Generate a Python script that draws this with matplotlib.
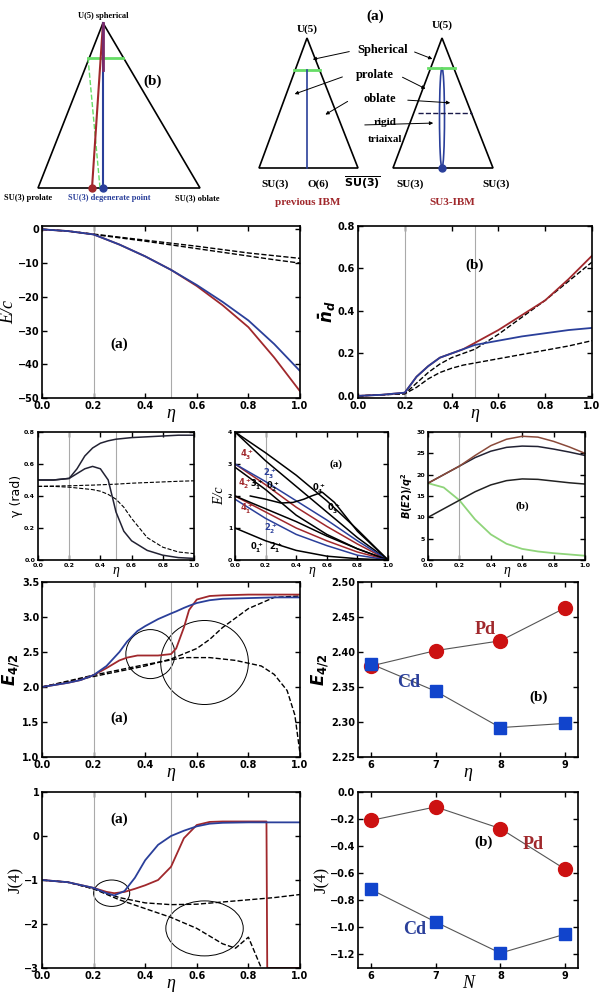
import matplotlib
matplotlib.use('Agg')
import matplotlib.pyplot as plt
from matplotlib.patches import Ellipse, Polygon

plt.rcParams['font.family'] = 'Liberation Serif'
plt.rcParams['font.weight'] = 'bold'

W, H = 600, 998
fig = plt.figure(figsize=(W / 100, H / 100), dpi=100)

def box(x0, y0, x1, y1):
    return fig.add_axes([x0 / W, 1 - y1 / H, (x1 - x0) / W, (y1 - y0) / H])

RED = '#a0282c'
BLUE = '#2a3f9a'

# ---------------- data ----------------
# row 2 left: E/c
ec_x = [0, 0.1, 0.2, 0.3, 0.4, 0.5, 0.6, 0.7, 0.8, 0.9, 1.0]
ec_blue = [0, -0.5, -1.5, -4.5, -8, -12, -16.5, -21.5, -27, -34, -42]
ec_red = [0, -0.5, -1.5, -4.5, -8, -12, -16.8, -22.5, -29, -38, -48]
ec_dash1 = [0, -0.5, -1.4, -2.3, -3.2, -4.1, -5, -6, -7, -7.8, -8.6]
ec_dash2 = [0, -0.5, -1.5, -2.5, -3.5, -4.6, -5.7, -6.8, -7.9, -9, -10]

# row 2 right: n_d
nd_x = [0, 0.1, 0.2, 0.25, 0.3, 0.35, 0.4, 0.45, 0.5, 0.6, 0.7, 0.8, 0.9, 1.0]
nd_blue = [0, 0.005, 0.015, 0.09, 0.14, 0.18, 0.2, 0.22, 0.24, 0.26, 0.28, 0.295, 0.31, 0.32]
nd_red = [0, 0.005, 0.015, 0.09, 0.14, 0.18, 0.2, 0.22, 0.25, 0.31, 0.38, 0.45, 0.55, 0.66]
nd_dash1 = [0, 0.005, 0.01, 0.06, 0.11, 0.15, 0.18, 0.2, 0.22, 0.29, 0.37, 0.45, 0.54, 0.63]
nd_dash2 = [0, 0.005, 0.01, 0.04, 0.08, 0.11, 0.13, 0.145, 0.155, 0.175, 0.195, 0.215, 0.235, 0.26]

# row 3: gamma
g_x = [0, 0.1, 0.2, 0.25, 0.3, 0.35, 0.4, 0.45, 0.5, 0.55, 0.6, 0.7, 0.8, 0.9, 1.0]
g_up = [0.5, 0.5, 0.51, 0.57, 0.65, 0.7, 0.73, 0.745, 0.755, 0.76, 0.765, 0.77, 0.775, 0.78, 0.78]
g_low = [0.5, 0.5, 0.51, 0.54, 0.57, 0.585, 0.57, 0.5, 0.3, 0.18, 0.12, 0.06, 0.03, 0.015, 0.01]
g_dash1 = [0.46, 0.462, 0.464, 0.465, 0.467, 0.468, 0.47, 0.472, 0.474, 0.477, 0.48, 0.484, 0.488, 0.492, 0.495]
g_dash2 = [0.46, 0.46, 0.455, 0.45, 0.445, 0.44, 0.43, 0.41, 0.38, 0.33, 0.26, 0.14, 0.08, 0.05, 0.04]

# row 3: spectrum E/c
sp_x = [0, 0.2, 0.4, 0.6, 0.8, 1.0]
sp_lines = [
    ([4, 3.35, 2.65, 1.85, 0.95, 0], 'k'),
    ([4, 3.1, 2.3, 1.5, 0.7, 0], 'k'),
    ([3, 2.35, 1.65, 1.05, 0.5, 0], RED),
    ([3, 2.45, 1.85, 1.25, 0.6, 0], BLUE),
    ([2.9, 2.2, 1.4, 0.8, 0.35, 0], 'k'),
    ([2, 1.5, 1.0, 0.6, 0.25, 0], RED),
    ([2, 1.6, 1.2, 0.75, 0.35, 0], 'k'),
    ([1.9, 1.3, 0.8, 0.45, 0.15, 0], BLUE),
    ([1, 0.6, 0.3, 0.12, 0.04, 0], 'k'),
]
sp_bump_x = [0.1, 0.2, 0.3, 0.38, 0.45, 0.5, 0.57, 0.65, 0.8, 1.0]
sp_bump = [2.0, 1.9, 1.78, 1.8, 1.9, 2.0, 2.12, 1.8, 0.9, 0]

# row 3: B(E2)
b_x = [0, 0.1, 0.2, 0.3, 0.4, 0.5, 0.6, 0.7, 0.8, 0.9, 1.0]
b_red = [18, 20, 22, 24.5, 26.8, 28.3, 29, 28.8, 27.8, 26.5, 25]
b_dark = [18, 20, 22, 24, 25.5, 26.4, 26.7, 26.6, 26, 25.3, 24.5]
b_low = [10, 12, 14, 16, 17.6, 18.6, 19, 18.9, 18.5, 18.1, 17.8]
b_green = [18, 17, 14, 9.5, 6, 3.8, 2.6, 2.0, 1.6, 1.3, 1.0]

# row 4 left: E4/2
r_x = [0, 0.1, 0.15, 0.2, 0.25, 0.3, 0.33, 0.37, 0.4, 0.45, 0.5, 0.52, 0.55, 0.57, 0.6, 0.65, 0.7, 0.8, 0.9, 1.0]
r_blue = [2.0, 2.06, 2.1, 2.17, 2.3, 2.5, 2.65, 2.8, 2.87, 2.97, 3.05, 3.08, 3.13, 3.16, 3.2, 3.24, 3.26, 3.27, 3.28, 3.28]
r_red = [2.0, 2.06, 2.1, 2.17, 2.27, 2.38, 2.42, 2.45, 2.45, 2.45, 2.47, 2.55, 2.85, 3.1, 3.25, 3.3, 3.31, 3.32, 3.32, 3.32]
d_x1 = [0, 0.2, 0.4, 0.5, 0.6, 0.65, 0.7, 0.8, 0.9, 1.0]
r_dash1 = [2.0, 2.15, 2.3, 2.4, 2.55, 2.68, 2.85, 3.12, 3.28, 3.3]
d_x2 = [0, 0.2, 0.4, 0.55, 0.65, 0.75, 0.85, 0.9, 0.95, 0.98, 1.0]
r_dash2 = [2.0, 2.17, 2.32, 2.42, 2.42, 2.38, 2.3, 2.18, 1.95, 1.6, 1.05]

# row 4 right
n_vals = [6, 7, 8, 9]
e42_pd = [2.380, 2.402, 2.416, 2.463]
e42_cd = [2.383, 2.344, 2.292, 2.298]

# row 5 left: J(4)
j_x = [0, 0.1, 0.2, 0.25, 0.28, 0.32, 0.36, 0.4, 0.45, 0.5, 0.55, 0.6, 0.65, 0.7, 0.8, 0.87, 0.873, 1.0]
j_blue = [-1, -1.05, -1.18, -1.3, -1.35, -1.25, -0.95, -0.55, -0.2, 0.0, 0.12, 0.22, 0.28, 0.3, 0.31, 0.31, 0.31, 0.31]
j_red = [-1, -1.05, -1.18, -1.27, -1.3, -1.27, -1.2, -1.12, -1.0, -0.7, -0.05, 0.25, 0.32, 0.33, 0.33, 0.33, -3, -3]
jd_x1 = [0, 0.1, 0.2, 0.3, 0.4, 0.5, 0.6, 0.7, 0.8, 0.9, 1.0]
j_dash1 = [-1, -1.05, -1.2, -1.4, -1.52, -1.56, -1.55, -1.5, -1.45, -1.4, -1.33]
jd_x2 = [0, 0.1, 0.2, 0.3, 0.4, 0.5, 0.6, 0.7, 0.75, 0.8, 0.85]
j_dash2 = [-1, -1.05, -1.2, -1.45, -1.65, -1.85, -2.1, -2.45, -2.55, -2.3, -3]

# row 5 right
j4_pd = [-0.21, -0.11, -0.27, -0.57]
j4_cd = [-0.72, -0.96, -1.19, -1.05]


def style(ax, fs=7):
    ax.tick_params(direction='in', top=True, right=True, labelsize=fs, width=1, pad=2)
    for s in ax.spines.values():
        s.set_linewidth(1.2)
    for lab in ax.get_xticklabels() + ax.get_yticklabels():
        lab.set_fontweight('bold')
        lab.set_family('DejaVu Sans')


def vlines(ax, xs=(0.2, 0.5)):
    for v in xs:
        ax.axvline(v, color='#aaaaaa', lw=0.8)


# ---------------- top triangles ----------------
at = fig.add_axes([0, 1 - 215 / H, 1, 215 / H])
at.set_xlim(0, 600)
at.set_ylim(215, 0)
at.axis('off')
at.add_patch(Polygon([[103, 23], [38, 188], [200, 188]], closed=True, fill=False, lw=1.2))
at.plot([88, 123], [58, 58], color='#66dd66', lw=2)
at.plot([88, 100], [58, 188], color='#66dd66', lw=1, ls='--')
at.plot([103, 92], [23, 188], color=RED, lw=1.5)
at.plot([103, 103], [23, 188], color=BLUE, lw=1.5)
at.plot([103, 103], [23, 70], color='#7a2a6a', lw=2)
at.plot([92], [188], 'o', color=RED, ms=5)
at.plot([103], [188], 'o', color=BLUE, ms=5)
at.text(103, 18, 'U(5) spherical', ha='center', fontsize=6)
at.text(153, 85, '(b)', ha='center', fontsize=11)
at.text(4, 200, 'SU(3) prolate', fontsize=6)
at.text(68, 200, 'SU(3) degenerate point', fontsize=6, color=BLUE)
at.text(175, 200, 'SU(3) oblate', fontsize=6)

at.add_patch(Polygon([[307, 38], [259, 168], [358, 168]], closed=True, fill=False, lw=1.2))
at.plot([294, 320], [70, 70], color='#66dd66', lw=2)
at.plot([307, 307], [70, 168], color=BLUE, lw=1.2)
at.add_patch(Polygon([[442, 38], [393, 168], [493, 168]], closed=True, fill=False, lw=1.2))
at.plot([428, 455], [68, 68], color='#66dd66', lw=2)
at.add_patch(Ellipse((442, 118), 5, 100, fill=False, color=BLUE, lw=1.2))
at.plot([418, 472], [113, 113], color='#1a1a4a', lw=1, ls='--')
at.plot([442], [168], 'o', color=BLUE, ms=5)
at.text(375, 20, '(a)', ha='center', fontsize=11)
at.text(307, 32, 'U(5)', ha='center', fontsize=8)
at.text(442, 28, 'U(5)', ha='center', fontsize=8)
at.text(383, 53, 'Spherical', ha='center', fontsize=9)
at.text(375, 78, 'prolate', ha='center', fontsize=9)
at.text(380, 102, 'oblate', ha='center', fontsize=9)
at.text(385, 125, 'rigid', ha='center', fontsize=8)
at.text(385, 142, 'triaixal', ha='center', fontsize=8)
arrows = [((352, 51), (310, 60)), ((412, 51), (435, 60)), ((345, 76), (292, 95)),
          ((400, 76), (428, 90)), ((405, 100), (453, 103)), ((350, 100), (323, 116)),
          ((362, 125), (436, 123))]
for (x0, y0), (x1, y1) in arrows:
    at.annotate('', xy=(x1, y1), xytext=(x0, y0),
                arrowprops=dict(arrowstyle='-|>', lw=0.7, color='k', mutation_scale=5))
at.text(275, 187, 'SU(3)', ha='center', fontsize=8)
at.text(318, 187, 'O(6)', ha='center', fontsize=8)
at.text(362, 187, r'$\overline{\mathrm{SU(3)}}$', ha='center', fontsize=8)
at.text(410, 187, 'SU(3)', ha='center', fontsize=8)
at.text(496, 187, 'SU(3)', ha='center', fontsize=8)
at.text(308, 205, 'previous IBM', ha='center', fontsize=8, color=RED)
at.text(452, 205, 'SU3-IBM', ha='center', fontsize=8, color=RED)

# ---------------- row 2 ----------------
ax = box(42, 226, 300, 398)
vlines(ax)
ax.plot(ec_x, ec_dash1, 'k--', lw=1)
ax.plot(ec_x, ec_dash2, 'k--', lw=1)
ax.plot(ec_x, ec_red, color=RED, lw=1.3)
ax.plot(ec_x, ec_blue, color=BLUE, lw=1.3)
ax.set_xlim(0, 1)
ax.set_ylim(-50, 1)
ax.set_yticks([0, -10, -20, -30, -40, -50])
ax.set_xticks([0, 0.2, 0.4, 0.6, 0.8, 1.0])
ax.set_ylabel('E/c', fontsize=13, style='italic', labelpad=0)
ax.set_xlabel('η', fontsize=13, style='italic', labelpad=-4)
ax.text(0.3, -35, '(a)', fontsize=11, ha='center')
style(ax)

ax = box(358, 226, 592, 398)
vlines(ax)
ax.plot(nd_x, nd_dash1, 'k--', lw=1)
ax.plot(nd_x, nd_dash2, 'k--', lw=1)
ax.plot(nd_x, nd_red, color=RED, lw=1.3)
ax.plot(nd_x, nd_blue, color=BLUE, lw=1.3)
ax.set_xlim(0, 1)
ax.set_ylim(-0.01, 0.8)
ax.set_yticks([0, 0.2, 0.4, 0.6, 0.8])
ax.set_xticks([0, 0.2, 0.4, 0.6, 0.8, 1.0])
ax.set_ylabel(r'$\bar{n}_d$', fontsize=12, labelpad=0)
ax.set_xlabel('η', fontsize=13, style='italic', labelpad=-4)
ax.text(0.5, 0.6, '(b)', fontsize=11, ha='center')
style(ax)

# ---------------- row 3 ----------------
ax = box(38, 432, 194, 560)
vlines(ax)
ax.plot(g_x, g_dash1, 'k--', lw=0.8)
ax.plot(g_x, g_dash2, 'k--', lw=0.8)
ax.plot(g_x, g_up, color='#222233', lw=1.1)
ax.plot(g_x, g_low, color='#222233', lw=1.1)
ax.set_xlim(0, 1)
ax.set_ylim(0, 0.8)
ax.set_yticks([0, 0.2, 0.4, 0.6, 0.8])
ax.set_xticks([0, 0.2, 0.4, 0.6, 0.8, 1.0])
ax.set_ylabel('γ (rad)', fontsize=9, family='DejaVu Sans', fontweight='normal', labelpad=1)
ax.set_xlabel('η', fontsize=10, style='italic', labelpad=-3)
style(ax, 4.5)

ax = box(235, 432, 388, 560)
vlines(ax, (0.2,))
for ys, c in sp_lines:
    ax.plot(sp_x, ys, color=c, lw=1.1)
ax.plot(sp_bump_x, sp_bump, color='k', lw=1.1)
ax.set_xlim(0, 1)
ax.set_ylim(0, 4)
ax.set_yticks([0, 1, 2, 3, 4])
ax.set_xticks([0, 0.2, 0.4, 0.6, 0.8, 1.0])
ax.set_ylabel('E/c', fontsize=10, style='italic', labelpad=1)
ax.set_xlabel('η', fontsize=10, style='italic', labelpad=-3)
ax.text(0.62, 2.9, '(a)', fontsize=8)
for x, y, t, c in [(0.03, 3.2, r'$4^+_3$', RED), (0.02, 2.3, r'$4^+_2$', RED),
                   (0.1, 2.25, r'$3^+_1$', 'k'), (0.2, 2.2, r'$0^+_2$', 'k'),
                   (0.03, 1.5, r'$4^+_1$', RED), (0.18, 2.6, r'$2^+_3$', BLUE),
                   (0.5, 2.15, r'$0^+_4$', 'k'), (0.6, 1.5, r'$0^+_3$', 'k'),
                   (0.19, 0.9, r'$2^+_2$', BLUE), (0.1, 0.3, r'$0^+_1$', 'k'),
                   (0.22, 0.3, r'$2^+_1$', 'k')]:
    ax.text(x, y, t, fontsize=6, color=c)
style(ax, 4.5)

ax = box(428, 432, 585, 560)
vlines(ax, (0.2,))
ax.plot(b_x, b_green, color='#8fd47a', lw=1.3)
ax.plot(b_x, b_low, color='#222222', lw=1.1)
ax.plot(b_x, b_dark, color='#222233', lw=1.1)
ax.plot(b_x, b_red, color='#8a4a3a', lw=1.1)
ax.set_xlim(0, 1)
ax.set_ylim(0, 30)
ax.set_yticks([0, 5, 10, 15, 20, 25, 30])
ax.set_xticks([0, 0.2, 0.4, 0.6, 0.8, 1.0])
ax.set_ylabel(r'$B(E2)/q^2$', fontsize=7, labelpad=1)
ax.set_xlabel('η', fontsize=10, style='italic', labelpad=-3)
ax.text(0.6, 12, '(b)', fontsize=8, ha='center')
style(ax, 4.5)

# ---------------- row 4 ----------------
ax = box(42, 582, 300, 757)
vlines(ax)
ax.plot(d_x1, r_dash1, 'k--', lw=1)
ax.plot(d_x2, r_dash2, 'k--', lw=1)
ax.plot(r_x, r_red, color=RED, lw=1.3)
ax.plot(r_x, r_blue, color=BLUE, lw=1.3)
ax.add_patch(Ellipse((0.42, 2.47), 0.19, 0.7, fill=False, lw=0.7))
ax.add_patch(Ellipse((0.63, 2.35), 0.34, 1.2, fill=False, lw=0.7))
ax.set_xlim(0, 1)
ax.set_ylim(1.0, 3.5)
ax.set_yticks([1.0, 1.5, 2.0, 2.5, 3.0, 3.5])
ax.set_xticks([0, 0.2, 0.4, 0.6, 0.8, 1.0])
ax.set_ylabel(r'$E_{4/2}$', fontsize=12, labelpad=0)
ax.set_xlabel('η', fontsize=13, style='italic', labelpad=-4)
ax.text(0.3, 1.5, '(a)', fontsize=11, ha='center')
style(ax)

ax = box(358, 582, 578, 757)
ax.plot(n_vals, e42_pd, '-', color='#555555', lw=0.8)
ax.plot(n_vals, e42_cd, '-', color='#555555', lw=0.8)
ax.plot(n_vals, e42_pd, 'o', color='#cc1111', ms=10)
ax.plot(n_vals, e42_cd, 's', color='#1144cc', ms=9)
ax.set_xlim(5.8, 9.2)
ax.set_ylim(2.25, 2.50)
ax.set_xticks(n_vals)
ax.set_yticks([2.25, 2.30, 2.35, 2.40, 2.45, 2.50])
ax.set_ylabel(r'$E_{4/2}$', fontsize=12, labelpad=0)
ax.set_xlabel('η', fontsize=13, style='italic', labelpad=-4)
ax.text(7.6, 2.425, 'Pd', fontsize=13, color=RED)
ax.text(6.4, 2.35, 'Cd', fontsize=13, color=BLUE)
ax.text(8.45, 2.33, '(b)', fontsize=11)
style(ax)

# ---------------- row 5 ----------------
ax = box(42, 792, 300, 968)
vlines(ax)
ax.plot(jd_x1, j_dash1, 'k--', lw=1)
ax.plot(jd_x2, j_dash2, 'k--', lw=1)
ax.plot(j_x, j_red, color=RED, lw=1.3)
ax.plot(j_x, j_blue, color=BLUE, lw=1.3)
ax.add_patch(Ellipse((0.27, -1.3), 0.14, 0.6, fill=False, lw=0.7))
ax.add_patch(Ellipse((0.63, -2.1), 0.3, 1.25, fill=False, lw=0.7))
ax.set_xlim(0, 1)
ax.set_ylim(-3, 1)
ax.set_yticks([-3, -2, -1, 0, 1])
ax.set_xticks([0, 0.2, 0.4, 0.6, 0.8, 1.0])
ax.set_ylabel('J(4)', fontsize=12, labelpad=0)
ax.set_xlabel('η', fontsize=13, style='italic', labelpad=-4)
ax.text(0.3, 0.3, '(a)', fontsize=11, ha='center')
style(ax)

ax = box(358, 792, 578, 968)
ax.plot(n_vals, j4_pd, '-', color='#555555', lw=0.8)
ax.plot(n_vals, j4_cd, '-', color='#555555', lw=0.8)
ax.plot(n_vals, j4_pd, 'o', color='#cc1111', ms=10)
ax.plot(n_vals, j4_cd, 's', color='#1144cc', ms=9)
ax.set_xlim(5.8, 9.2)
ax.set_ylim(-1.3, 0)
ax.set_xticks(n_vals)
ax.set_yticks([-1.2, -1.0, -0.8, -0.6, -0.4, -0.2, 0.0])
ax.set_ylabel('J(4)', fontsize=12, labelpad=0)
ax.set_xlabel('N', fontsize=13, style='italic', labelpad=-4)
ax.text(8.35, -0.42, 'Pd', fontsize=13, color=RED)
ax.text(6.5, -1.05, 'Cd', fontsize=13, color=BLUE)
ax.text(7.6, -0.4, '(b)', fontsize=11)
style(ax)

fig.savefig('out.png', dpi=100)
